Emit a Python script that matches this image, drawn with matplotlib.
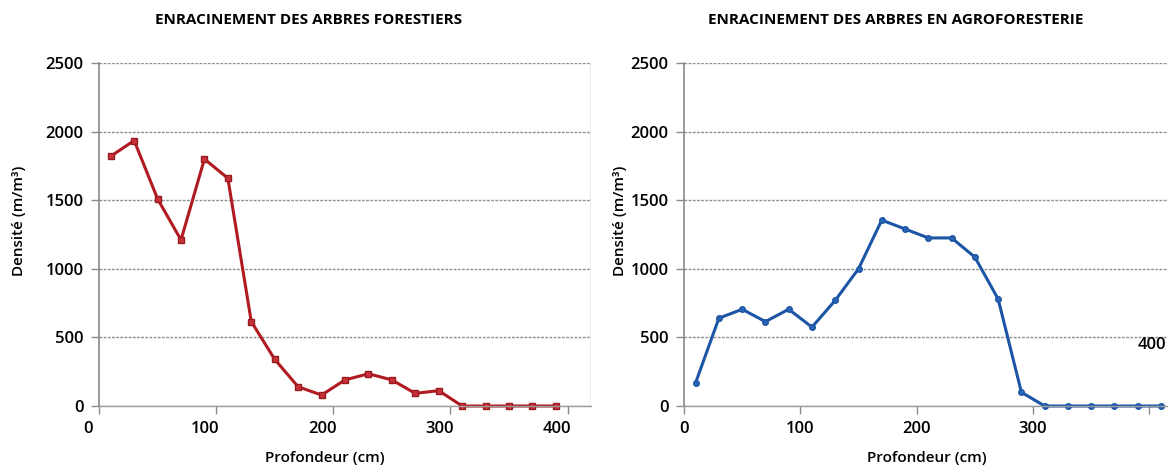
import matplotlib
matplotlib.use("Agg")
import matplotlib.pyplot as plt
import matplotlib.transforms as mtransforms

plt.rcParams['font.family'] = ['Open Sans', 'DejaVu Sans']

# Data
depth_forest = [10, 30, 50, 70, 90, 110, 130, 150, 170, 190, 210, 230, 250, 270, 290, 310, 330, 350, 370, 390]
density_forest = [1820, 1935, 1510, 1210, 1800, 1660, 615, 340, 140, 80, 190, 235, 190, 92, 112, 0, 0, 0, 0, 0]

depth_agro = [10, 30, 50, 70, 90, 110, 130, 150, 170, 190, 210, 230, 250, 270, 290, 310, 330, 350, 370, 390, 410]
density_agro = [170, 640, 705, 615, 705, 575, 770, 1000, 1355, 1290, 1225, 1225, 1085, 780, 100, 0, 0, 0, 0, 0, 0]

yticks = [0, 500, 1000, 1500, 2000, 2500]
xticks = [0, 100, 200, 300, 400]

title_left = "ENRACINEMENT DES ARBRES FORESTIERS"
title_right = "ENRACINEMENT DES ARBRES EN AGROFORESTERIE"
xlabel = "Profondeur (cm)"
ylabel = "Densité (m/m³)"

W, H = 1168, 471
fig = plt.figure(figsize=(W / 100, H / 100), dpi=100)
fig.patch.set_facecolor('white')

TICK_FS = 12
LABEL_FS = 11

def style_axes(ax, xmax):
    ax.set_xlim(0, xmax)
    ax.set_ylim(0, 2500)
    ax.set_yticks(yticks)
    ax.set_xticks(xticks)
    for s in ['top', 'right']:
        ax.spines[s].set_visible(False)
    ax.spines['left'].set_color('#8a8a8a')
    ax.spines['bottom'].set_color('#9a9a9a')
    ax.spines['left'].set_linewidth(1.2)
    ax.spines['bottom'].set_linewidth(1.0)
    ax.spines['bottom'].set_linestyle((0, (2, 1)))
    ax.grid(axis='y', color='#8f8f8f', linestyle=(0, (2, 1)), linewidth=1.0)
    ax.set_axisbelow(True)
    ax.tick_params(axis='both', direction='out', length=6, width=1, color='#8a8a8a',
                   labelsize=TICK_FS, pad=5)
    for lab in ax.get_xticklabels() + ax.get_yticklabels():
        lab.set_fontweight('semibold')
    ax.set_facecolor('none')

# Left chart
axL = fig.add_axes([99 / W, 1 - 406 / H, (591 - 99) / W, (406 - 63) / H])
style_axes(axL, 420)
axL.plot(depth_forest, density_forest, color='#b01a20', linewidth=2.2,
         marker='s', markersize=5, markerfacecolor='#c8323a', markeredgecolor='#9a1a1f', clip_on=False)
axL.axvline(420, color='#a0a0a0', linewidth=1.0)
offset = mtransforms.ScaledTranslation(-11 / 100, 0, fig.dpi_scale_trans)
for lab in axL.get_xticklabels():
    lab.set_transform(lab.get_transform() + offset)
axL.set_ylabel(ylabel, fontsize=LABEL_FS, fontweight='semibold')
axL.yaxis.set_label_coords((26 - 99) / 492, 0.539)
axL.set_xlabel(xlabel, fontsize=LABEL_FS, fontweight='semibold')
axL.xaxis.set_label_coords((325 - 99) / 492, (406 - 451) / 343)
fig.text(309 / W, 1 - 20 / H, title_left, ha='center', va='center', fontsize=11,
         fontweight='bold')

# Right chart
axR = fig.add_axes([684 / W, 1 - 406 / H, (1168 - 684) / W, (406 - 63) / H])
style_axes(axR, 416)
axR.plot(depth_agro, density_agro, color='#1c55a5', linewidth=2.2,
         marker='o', markersize=4, markerfacecolor='#2a66b5', markeredgecolor='#1c55a5', clip_on=False)
axR.set_xticklabels(['0', '100', '200', '300', ''])
for lab in axR.get_xticklabels():
    lab.set_fontweight('semibold')
axR.text(402, 445, '400', ha='center', va='center', fontsize=TICK_FS, fontweight='semibold', clip_on=False)
axR.set_ylabel(ylabel, fontsize=LABEL_FS, fontweight='semibold')
axR.yaxis.set_label_coords((627 - 684) / 484, 0.539)
axR.set_xlabel(xlabel, fontsize=LABEL_FS, fontweight='semibold')
axR.xaxis.set_label_coords((927 - 684) / 484, (406 - 451) / 343)
fig.text(896 / W, 1 - 20 / H, title_right, ha='center', va='center', fontsize=11,
         fontweight='bold')

fig.savefig('out.png', dpi=100, facecolor='white')
